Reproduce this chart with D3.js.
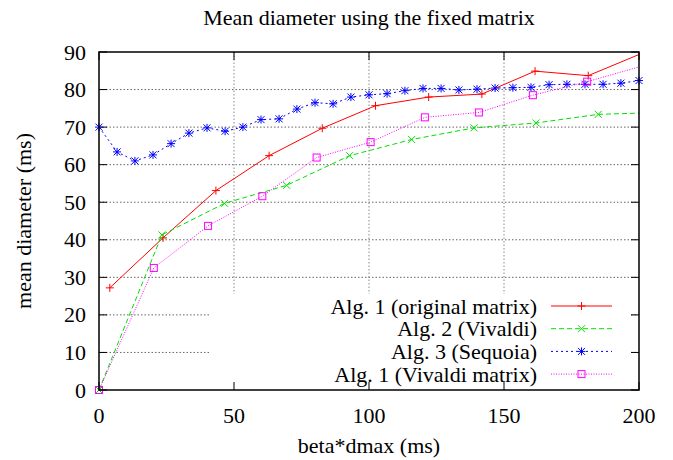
<!DOCTYPE html>
<html>
<head>
<meta charset="utf-8">
<script src="https://cdn.jsdelivr.net/npm/d3@7"></script>
<style>
  body { margin: 0; background: #fff; }
</style>
</head>
<body>
<div id="chart"></div>
<script>
const svgWidth = 673, svgHeight = 460;
const plot = {left: 99, right: 639, top: 52, bottom: 390};
const fontSize = 22;
const fontFamily = "'Liberation Serif', 'Times New Roman', Times, 'DejaVu Serif', serif";

const xTicks = [0, 50, 100, 150, 200];
const yTicks = [0, 10, 20, 30, 40, 50, 60, 70, 80, 90];

// Alg. 1 (original matrix)
const alg1X = [4, 23.7, 43.3, 63, 82.7, 102.4, 122.1, 141.8, 161.5, 181.2, 200.9];
const alg1Y = [27.2, 40.5, 53.1, 62.4, 69.7, 75.7, 78.0, 78.8, 84.9, 83.7, 89.6];
// Alg. 2 (Vivaldi)
const alg2X = [0, 23.3, 46.5, 69.5, 92.8, 115.8, 138.9, 161.9, 184.9, 207.9];
const alg2Y = [0, 41.3, 49.7, 54.5, 62.4, 66.7, 69.8, 71.1, 73.4, 73.9];
// Alg. 3 (Sequoia)
const alg3X = [0, 6.7, 13.3, 20, 26.7, 33.3, 40, 46.7, 53.3, 60, 66.7, 73.3, 80, 86.7, 93.3, 100,
  106.7, 113.3, 120, 126.7, 133.3, 140, 146.7, 153.3, 160, 166.7, 173.3, 180, 186.7, 193.3, 200];
const alg3Y = [70.0, 63.4, 61.0, 62.6, 65.6, 68.4, 69.8, 68.9, 70.0, 72.0, 72.2, 74.8, 76.5, 76.2, 78.0, 78.6,
  78.9, 79.7, 80.3, 80.3, 79.9, 80.1, 80.4, 80.5, 80.6, 81.3, 81.4, 81.4, 81.4, 81.7, 82.4];
// Alg. 1 (Vivaldi matrix)
const alg1vX = [0, 20.3, 40.4, 60.5, 80.6, 100.6, 120.7, 140.7, 160.7, 180.8, 200.9];
const alg1vY = [0, 32.5, 43.7, 51.6, 61.9, 66.0, 72.6, 73.9, 78.5, 82.1, 86.2];

const series = [
  {name: "Alg. 1 (original matrix)", xs: alg1X, ys: alg1Y, color: "#ff0000", dash: null, marker: "plus"},
  {name: "Alg. 2 (Vivaldi)", xs: alg2X, ys: alg2Y, color: "#00e000", dash: "5,3", marker: "cross"},
  {name: "Alg. 3 (Sequoia)", xs: alg3X, ys: alg3Y, color: "#0000ff", dash: "2,3", marker: "star"},
  {name: "Alg. 1 (Vivaldi matrix)", xs: alg1vX, ys: alg1vY, color: "#ff00ff", dash: "1,1.5", marker: "box"}
];

const x = d3.scaleLinear().domain([0, 200]).range([plot.left, plot.right]);
const y = d3.scaleLinear().domain([0, 90]).range([plot.bottom, plot.top]);

const svg = d3.select("#chart").append("svg")
    .attr("width", svgWidth)
    .attr("height", svgHeight)
    .attr("font-family", fontFamily)
    .attr("font-size", fontSize);

svg.append("defs").append("clipPath").attr("id", "plotclip")
  .append("rect")
    .attr("x", plot.left).attr("y", plot.top)
    .attr("width", plot.right - plot.left).attr("height", plot.bottom - plot.top);

// grid
svg.selectAll(".hgrid")
    .data(yTicks.slice(1, -1))
    .enter().append("line")
    .attr("x1", plot.left).attr("x2", plot.right)
    .attr("y1", d => y(d)).attr("y2", d => y(d))
    .attr("stroke", "#666").attr("stroke-width", 1)
    .attr("stroke-dasharray", "1.5,2");

svg.selectAll(".vgrid")
    .data(xTicks.slice(1, -1))
    .enter().append("line")
    .attr("x1", d => x(d)).attr("x2", d => x(d))
    .attr("y1", plot.top).attr("y2", plot.bottom)
    .attr("stroke", "#888").attr("stroke-width", 1)
    .attr("stroke-dasharray", "1.5,2");

// key area hides the grid behind it
const key = {left: 210, top: 294, right: 631, rowY: 306, rowGap: 22.7, textRight: 537, lineX1: 551, lineX2: 612};
svg.append("rect")
    .attr("x", key.left).attr("y", key.top)
    .attr("width", key.right - key.left).attr("height", plot.bottom - key.top - 1)
    .attr("fill", "#fff");

// ticks (inside, mirrored)
const tickLen = 8;
const ticks = svg.append("g").attr("stroke", "#000").attr("stroke-width", 1);
xTicks.forEach(t => {
  ticks.append("line").attr("x1", x(t)).attr("x2", x(t)).attr("y1", plot.bottom).attr("y2", plot.bottom - tickLen);
  ticks.append("line").attr("x1", x(t)).attr("x2", x(t)).attr("y1", plot.top).attr("y2", plot.top + tickLen);
});
yTicks.forEach(t => {
  ticks.append("line").attr("x1", plot.left).attr("x2", plot.left + tickLen).attr("y1", y(t)).attr("y2", y(t));
  ticks.append("line").attr("x1", plot.right).attr("x2", plot.right - tickLen).attr("y1", y(t)).attr("y2", y(t));
});

svg.selectAll(".xlab")
    .data(xTicks)
    .enter().append("text")
    .attr("x", d => x(d))
    .attr("y", 415)
    .attr("text-anchor", "middle")
    .attr("dominant-baseline", "central")
    .text(d => d);

svg.selectAll(".ylab")
    .data(yTicks)
    .enter().append("text")
    .attr("x", 86)
    .attr("y", d => y(d))
    .attr("text-anchor", "end")
    .attr("dominant-baseline", "central")
    .text(d => d);

function drawMarker(g, cx, cy, type, color) {
  const s = 4;
  const m = g.append("g").attr("stroke", color).attr("fill", "none").attr("stroke-width", 1);
  if (type === "plus" || type === "star") {
    m.append("line").attr("x1", cx - s).attr("x2", cx + s).attr("y1", cy).attr("y2", cy);
    m.append("line").attr("x1", cx).attr("x2", cx).attr("y1", cy - s).attr("y2", cy + s);
  }
  if (type === "cross" || type === "star") {
    const c = 3.5;
    m.append("line").attr("x1", cx - c).attr("x2", cx + c).attr("y1", cy - c).attr("y2", cy + c);
    m.append("line").attr("x1", cx - c).attr("x2", cx + c).attr("y1", cy + c).attr("y2", cy - c);
  }
  if (type === "box") {
    m.append("rect").attr("x", cx - 3.5).attr("y", cy - 3.5).attr("width", 7).attr("height", 7);
  }
}

const line = d3.line().x(d => x(d[0])).y(d => y(d[1]));

series.forEach(s => {
  const pts = s.xs.map((v, i) => [v, s.ys[i]]);
  svg.append("path")
      .datum(pts)
      .attr("clip-path", "url(#plotclip)")
      .attr("fill", "none")
      .attr("stroke", s.color)
      .attr("stroke-width", 1)
      .attr("stroke-dasharray", s.dash)
      .attr("d", line);
  const mg = svg.append("g");
  pts.filter(p => p[0] <= 200).forEach(p => drawMarker(mg, x(p[0]), y(p[1]), s.marker, s.color));
});

// legend
series.forEach((s, i) => {
  const ry = key.rowY + i * key.rowGap;
  svg.append("text")
      .attr("x", key.textRight)
      .attr("y", ry)
      .attr("text-anchor", "end")
      .attr("dominant-baseline", "central")
      .text(s.name);
  svg.append("line")
      .attr("x1", key.lineX1).attr("x2", key.lineX2)
      .attr("y1", ry).attr("y2", ry)
      .attr("stroke", s.color).attr("stroke-width", 1)
      .attr("stroke-dasharray", s.dash);
  drawMarker(svg, (key.lineX1 + key.lineX2) / 2, ry, s.marker, s.color);
});

// border
svg.append("rect")
    .attr("x", plot.left).attr("y", plot.top)
    .attr("width", plot.right - plot.left).attr("height", plot.bottom - plot.top)
    .attr("fill", "none").attr("stroke", "#000").attr("stroke-width", 1.5);

svg.append("text")
    .attr("x", (plot.left + plot.right) / 2)
    .attr("y", 17)
    .attr("text-anchor", "middle")
    .attr("dominant-baseline", "central")
    .text("Mean diameter using the fixed matrix");

svg.append("text")
    .attr("x", (plot.left + plot.right) / 2)
    .attr("y", 445)
    .attr("text-anchor", "middle")
    .attr("dominant-baseline", "central")
    .text("beta*dmax (ms)");

svg.append("text")
    .attr("transform", `translate(23,${(plot.top + plot.bottom) / 2}) rotate(-90)`)
    .attr("text-anchor", "middle")
    .attr("dominant-baseline", "central")
    .text("mean diameter (ms)");
</script>
</body>
</html>
